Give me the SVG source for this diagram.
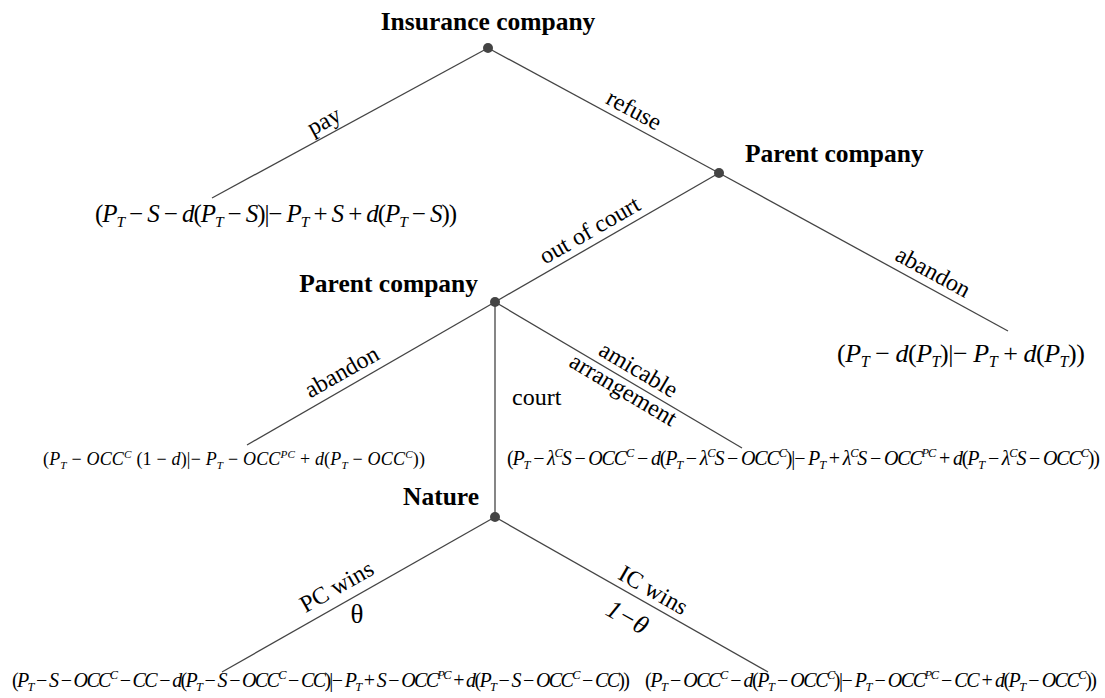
<svg xmlns="http://www.w3.org/2000/svg" width="1105" height="698" viewBox="0 0 1105 698">
<style>
text{font-family:"Liberation Serif","Times New Roman",serif;fill:#000}
.b{font-weight:bold;font-size:25.5px}
.l{font-size:24px}
.i{font-style:italic}
.s{font-size:62%}
.e{stroke:#444;stroke-width:1.3;fill:none}
.n{fill:#444}
</style>
<rect width="1105" height="698" fill="#fff"/>
<g id="connectors">
<line class="e" x1="488" y1="48" x2="212" y2="198"/>
<line class="e" x1="488" y1="48" x2="719" y2="173"/>
<line class="e" x1="719" y1="173" x2="1008" y2="331"/>
<line class="e" x1="719" y1="173" x2="495" y2="302"/>
<line class="e" x1="495" y1="302" x2="247" y2="445"/>
<line class="e" x1="495" y1="302" x2="495" y2="517"/>
<line class="e" x1="495" y1="302" x2="742" y2="448"/>
<line class="e" x1="495" y1="517" x2="222" y2="672"/>
<line class="e" x1="495" y1="517" x2="768" y2="672"/>
</g>
<g id="edge-labels">
<text class="l" text-anchor="middle" transform="translate(331,134) rotate(-28.5)" y="-7">pay</text>
<text class="l" text-anchor="middle" transform="translate(627,123) rotate(28.5)" y="-7">refuse</text>
<text class="l" text-anchor="middle" transform="translate(597,243) rotate(-29.9)" y="-7">out of court</text>
<text class="l" text-anchor="middle" transform="translate(926,285) rotate(28.6)" y="-7">abandon</text>
<text class="l" text-anchor="middle" transform="translate(349,384.6) rotate(-29.4)" y="-7">abandon</text>
<text class="l" x="512" y="405">court</text>
<text class="l" text-anchor="middle" transform="translate(631,382.3) rotate(30.6)" y="-7">amicable</text>
<text class="l" text-anchor="middle" transform="translate(628.5,380.9) rotate(30.6)" y="18">arrangement</text>
<text class="l" text-anchor="middle" transform="translate(345.4,602) rotate(-29.6)" y="-10">PC wins</text>
<text text-anchor="middle" x="357" y="623" font-size="27">θ</text>
<text class="l" text-anchor="middle" transform="translate(646,603) rotate(29.6)" y="-7">IC wins</text>
<text text-anchor="middle" transform="translate(638,598.5) rotate(29.6)" y="30" font-size="26" class="i">1−θ</text>
</g>
<g id="n-root">
<circle class="n" cx="488" cy="48" r="5"/>
<text class="b" x="488" y="30" text-anchor="middle">Insurance company</text>
</g>
<g id="n-parent1">
<circle class="n" cx="719" cy="173" r="5"/>
<text class="b" x="745" y="162">Parent company</text>
</g>
<g id="n-parent2">
<circle class="n" cx="495" cy="302" r="5"/>
<text class="b" x="478" y="292" text-anchor="end">Parent company</text>
</g>
<g id="n-nature">
<circle class="n" cx="495" cy="517" r="5"/>
<text class="b" x="479" y="505" text-anchor="end">Nature</text>
</g>
<g id="payoff-pay">
<text x="95" y="222" font-size="25" textLength="362" lengthAdjust="spacing">(<tspan class="i">P</tspan><tspan class="s i" dy="5">T</tspan><tspan dy="-5"> − </tspan><tspan class="i">S</tspan> − <tspan class="i">d</tspan>(<tspan class="i">P</tspan><tspan class="s i" dy="5">T</tspan><tspan dy="-5"> − </tspan><tspan class="i">S</tspan>)|− <tspan class="i">P</tspan><tspan class="s i" dy="5">T</tspan><tspan dy="-5"> + </tspan><tspan class="i">S</tspan> + <tspan class="i">d</tspan>(<tspan class="i">P</tspan><tspan class="s i" dy="5">T</tspan><tspan dy="-5"> − </tspan><tspan class="i">S</tspan>))</text>
</g>
<g id="payoff-abandon1">
<text x="837" y="362" font-size="26" textLength="248" lengthAdjust="spacing">(<tspan class="i">P</tspan><tspan class="s i" dy="5">T</tspan><tspan dy="-5"> − </tspan><tspan class="i">d</tspan>(<tspan class="i">P</tspan><tspan class="s i" dy="5">T</tspan><tspan dy="-5">)|− </tspan><tspan class="i">P</tspan><tspan class="s i" dy="5">T</tspan><tspan dy="-5"> + </tspan><tspan class="i">d</tspan>(<tspan class="i">P</tspan><tspan class="s i" dy="5">T</tspan><tspan dy="-5">))</tspan></text>
</g>
<g id="payoff-abandon2">
<text x="43" y="465" font-size="18" textLength="382" lengthAdjust="spacing">(<tspan class="i">P</tspan><tspan class="s i" dy="4">T</tspan><tspan dy="-4"> − </tspan><tspan class="i">OCC</tspan><tspan class="s i" dy="-7">C</tspan><tspan dy="7"> (1 − </tspan><tspan class="i">d</tspan>)|− <tspan class="i">P</tspan><tspan class="s i" dy="4">T</tspan><tspan dy="-4"> − </tspan><tspan class="i">OCC</tspan><tspan class="s i" dy="-7">PC</tspan><tspan dy="7"> + </tspan><tspan class="i">d</tspan>(<tspan class="i">P</tspan><tspan class="s i" dy="4">T</tspan><tspan dy="-4"> − </tspan><tspan class="i">OCC</tspan><tspan class="s i" dy="-7">C</tspan><tspan dy="7">))</tspan></text>
</g>
<g id="payoff-amicable">
<text x="507" y="465" font-size="20" textLength="593" lengthAdjust="spacing">(<tspan class="i">P</tspan><tspan class="s i" dy="4">T</tspan><tspan dy="-4"> − </tspan><tspan class="i">λ</tspan><tspan class="s i" dy="-8">C</tspan><tspan class="i" dy="8">S</tspan> − <tspan class="i">OCC</tspan><tspan class="s i" dy="-8">C</tspan><tspan dy="8"> − </tspan><tspan class="i">d</tspan>(<tspan class="i">P</tspan><tspan class="s i" dy="4">T</tspan><tspan dy="-4"> − </tspan><tspan class="i">λ</tspan><tspan class="s i" dy="-8">C</tspan><tspan class="i" dy="8">S</tspan> − <tspan class="i">OCC</tspan><tspan class="s i" dy="-8">C</tspan><tspan dy="8">)|− </tspan><tspan class="i">P</tspan><tspan class="s i" dy="4">T</tspan><tspan dy="-4"> + </tspan><tspan class="i">λ</tspan><tspan class="s i" dy="-8">C</tspan><tspan class="i" dy="8">S</tspan> − <tspan class="i">OCC</tspan><tspan class="s i" dy="-8">PC</tspan><tspan dy="8"> + </tspan><tspan class="i">d</tspan>(<tspan class="i">P</tspan><tspan class="s i" dy="4">T</tspan><tspan dy="-4"> − </tspan><tspan class="i">λ</tspan><tspan class="s i" dy="-8">C</tspan><tspan class="i" dy="8">S</tspan> − <tspan class="i">OCC</tspan><tspan class="s i" dy="-8">C</tspan><tspan dy="8">))</tspan></text>
</g>
<g id="payoff-pcwins">
<text x="12" y="687" font-size="20" textLength="618" lengthAdjust="spacing">(<tspan class="i">P</tspan><tspan class="s i" dy="4">T</tspan><tspan dy="-4"> − </tspan><tspan class="i">S</tspan> − <tspan class="i">OCC</tspan><tspan class="s i" dy="-8">C</tspan><tspan dy="8"> − </tspan><tspan class="i">CC</tspan> − <tspan class="i">d</tspan>(<tspan class="i">P</tspan><tspan class="s i" dy="4">T</tspan><tspan dy="-4"> − </tspan><tspan class="i">S</tspan> − <tspan class="i">OCC</tspan><tspan class="s i" dy="-8">C</tspan><tspan dy="8"> − </tspan><tspan class="i">CC</tspan>)|− <tspan class="i">P</tspan><tspan class="s i" dy="4">T</tspan><tspan dy="-4"> + </tspan><tspan class="i">S</tspan> − <tspan class="i">OCC</tspan><tspan class="s i" dy="-8">PC</tspan><tspan dy="8"> + </tspan><tspan class="i">d</tspan>(<tspan class="i">P</tspan><tspan class="s i" dy="4">T</tspan><tspan dy="-4"> − </tspan><tspan class="i">S</tspan> − <tspan class="i">OCC</tspan><tspan class="s i" dy="-8">C</tspan><tspan dy="8"> − </tspan><tspan class="i">CC</tspan>))</text>
</g>
<g id="payoff-icwins">
<text x="645" y="687" font-size="20" textLength="452" lengthAdjust="spacing">(<tspan class="i">P</tspan><tspan class="s i" dy="4">T</tspan><tspan dy="-4"> − </tspan><tspan class="i">OCC</tspan><tspan class="s i" dy="-8">C</tspan><tspan dy="8"> − </tspan><tspan class="i">d</tspan>(<tspan class="i">P</tspan><tspan class="s i" dy="4">T</tspan><tspan dy="-4"> − </tspan><tspan class="i">OCC</tspan><tspan class="s i" dy="-8">C</tspan><tspan dy="8">)|− </tspan><tspan class="i">P</tspan><tspan class="s i" dy="4">T</tspan><tspan dy="-4"> − </tspan><tspan class="i">OCC</tspan><tspan class="s i" dy="-8">PC</tspan><tspan dy="8"> − </tspan><tspan class="i">CC</tspan> + <tspan class="i">d</tspan>(<tspan class="i">P</tspan><tspan class="s i" dy="4">T</tspan><tspan dy="-4"> − </tspan><tspan class="i">OCC</tspan><tspan class="s i" dy="-8">C</tspan><tspan dy="8">))</tspan></text>
</g>
</svg>
